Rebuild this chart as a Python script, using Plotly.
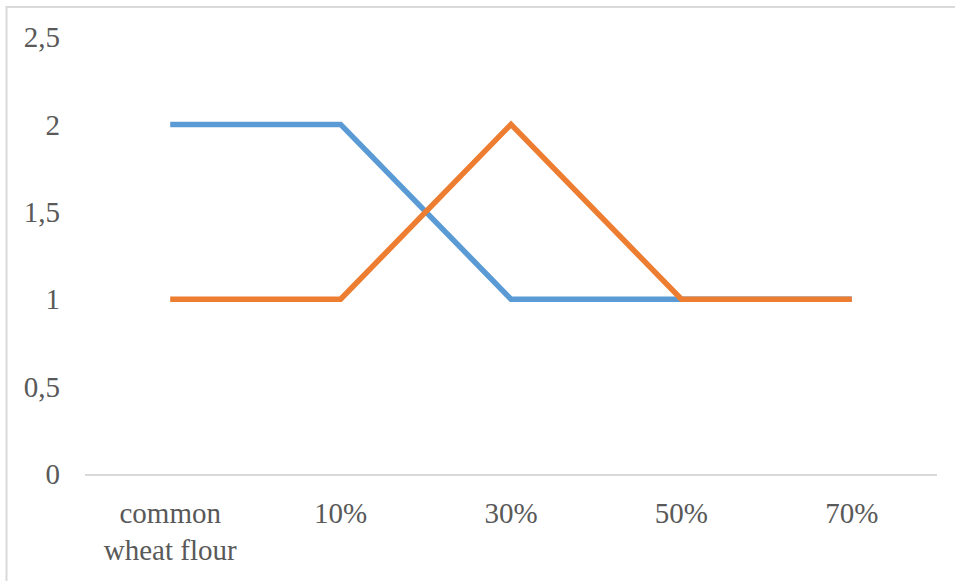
import plotly.graph_objects as go

categories = ["common<br>wheat flour", "10%", "30%", "50%", "70%"]
series_blue = [2, 2, 1, 1, 1]
series_orange = [1, 1, 2, 1, 1]
y_ticks = [0, 0.5, 1, 1.5, 2, 2.5]

fig = go.Figure()
fig.add_trace(go.Scatter(x=categories, y=series_blue, mode="lines",
                         line=dict(color="#5B9BD5", width=5.5), name="Series 1"))
fig.add_trace(go.Scatter(x=categories, y=series_orange, mode="lines",
                         line=dict(color="#ED7D31", width=5.5), name="Series 2"))

font = dict(family="Liberation Serif, Times New Roman, serif", size=29, color="#595959")

fig.update_layout(
    width=955, height=581,
    margin=dict(l=85, r=18, t=37, b=107),
    paper_bgcolor="white", plot_bgcolor="white",
    showlegend=False,
    separators=", ",
    font=font,
    xaxis=dict(type="category", range=[-0.5, 4.5], showgrid=False, zeroline=False,
               showline=True, linecolor="#D9D9D9", linewidth=1.5,
               ticks="", ticklabelstandoff=12, tickfont=font),
    yaxis=dict(range=[0, 2.5], tickvals=y_ticks, showgrid=False, zeroline=False,
               showline=False, ticks="", ticklabelstandoff=24, tickfont=font),
    shapes=[dict(type="rect", xref="paper", yref="paper",
                 x0=(6.5 - 85) / 852, x1=1.1, y0=-0.4, y1=(474 - 7) / 437,
                 line=dict(color="#D9D9D9", width=2), fillcolor="rgba(0,0,0,0)",
                 layer="below")],
)

fig.write_html("out.html",
               config={"displayModeBar": False},
               post_script="document.body.style.margin='0px';document.body.style.padding='0px';")
